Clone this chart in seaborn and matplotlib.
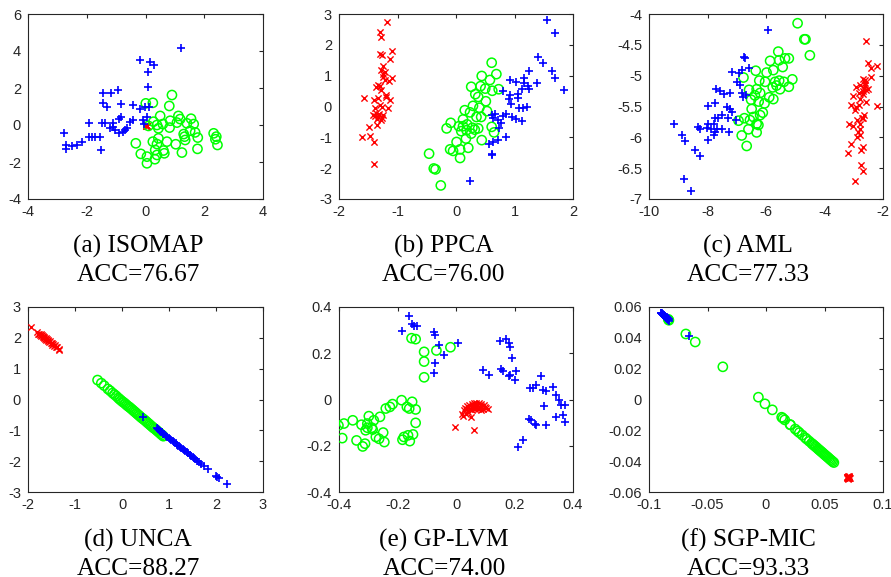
import numpy as np
import pandas as pd
import matplotlib
matplotlib.use("Agg")
import matplotlib.pyplot as plt
from matplotlib.ticker import FixedLocator, FuncFormatter
import seaborn as sns

# ---------------- data ----------------
panel_titles = ["(a) ISOMAP", "(b) PPCA", "(c) AML", "(d) UNCA", "(e) GP-LVM", "(f) SGP-MIC"]
panel_acc = ["ACC=76.67", "ACC=76.00", "ACC=77.33", "ACC=88.27", "ACC=74.00", "ACC=93.33"]

# (a) ISOMAP
a_red_x = [0.02, 0.04, 0.06, 0.03, 0.05, 0.01]
a_red_y = [-0.02, -0.05, -0.07, -0.08, -0.03, -0.06]
a_green_x = [0.90, 0.25, 0.01, 0.81, 0.50, 1.12, 1.18, 1.55, 0.27, 0.59, 0.39, 0.44, 0.10, 0.84, 1.07,
             1.41, 1.64, 0.82, 1.52, 1.69, 1.30, 1.33, 1.78, 1.35, 2.32, 2.41, 2.38, 2.45, 0.44, 0.25,
             0.39, 0.73, 1.03, -0.33, 1.24, 1.77, 0.33, 0.61, 0.64, 0.39, -0.16, 0.05, 0.05, 0.32]
a_green_y = [1.62, 1.20, 1.17, 1.03, 0.49, 0.49, 0.32, 0.34, 0.18, 0.05, 0.00, -0.18, -0.05, 0.23, 0.13,
             0.09, 0.05, -0.14, -0.31, -0.40, -0.49, -0.63, -0.68, -0.81, -0.45, -0.63, -0.77, -1.08, -0.72, -0.90,
             -1.03, -0.90, -1.04, -0.99, -1.49, -1.29, -1.35, -1.38, -1.53, -1.62, -1.56, -1.71, -2.07, -1.85]
a_blue_x = [1.22, -0.18, 0.16, 0.30, 0.08, 0.08, -1.45, -1.17, -0.93, -1.43, -1.32, -0.84, -0.44, -0.18, -0.01,
            0.13, -1.94, -1.49, -1.38, -1.09, -0.90, -0.84, -0.52, -0.43, -0.07, 0.05, -0.05, -1.20, -1.03, -1.09,
            -0.90, -0.75, -0.64, -0.69, -2.76, -1.94, -1.83, -1.72, -1.55, -2.17, -2.34, -2.51, -2.70, -2.70, -1.52]
a_blue_y = [4.17, 3.51, 3.40, 3.27, 2.88, 2.03, 1.74, 1.74, 1.89, 1.17, 0.95, 1.12, 1.08, 0.86, 0.95,
            0.99, 0.13, 0.09, 0.13, 0.09, 0.31, 0.41, 0.18, 0.27, 0.27, 0.41, 0.05, -0.18, -0.27, -0.09,
            -0.45, -0.36, -0.18, -0.27, -0.41, -0.63, -0.67, -0.63, -0.63, -0.90, -1.08, -1.12, -1.08, -1.29, -1.35]

# (b) PPCA
b_red_x = [-1.175, -1.30, -1.28, -1.30, -1.09, -1.13, -1.24, -1.29, -1.24, -1.09, -1.14, -1.21, -1.33, -1.36,
           -1.29, -1.19, -1.13, -1.33, -1.58, -1.41, -1.30, -1.37, -1.31, -1.42, -1.24, -1.35, -1.29, -1.16,
           -1.35, -1.48, -1.60, -1.47, -1.41, -1.40, -1.27, -1.39, -1.33, -1.27, -1.38, -1.30, -1.22, -1.25,
           -1.20, -1.26]
b_red_y = [2.74, 2.43, 2.26, 1.70, 1.80, 1.53, 1.32, 1.18, 1.05, 0.91, 0.82, 0.86, 0.69, 0.62,
           0.53, 0.37, 0.21, 0.26, 0.29, 0.21, 0.04, -0.21, -0.25, -0.28, -0.28, -0.39, -0.44, -0.06,
           -0.61, -0.68, -1.00, -0.96, -1.15, -1.88, -0.01, -0.06, -0.33, -0.36, -0.30, 0.66, 1.12, 0.95,
           0.30, 1.68]
b_green_x = [0.61, 0.69, 0.44, 0.58, 0.26, 0.42, 0.50, 0.62, 0.73, 0.33, 0.38, 0.51, 0.29, 0.15, 0.40,
             0.24, 0.53, 0.43, 0.35, -0.09, 0.12, 0.05, 0.12, 0.19, -0.16, 0.09, 0.32, 0.38, 0.61, 0.65,
             0.26, 0.17, 0.44, 0.01, -0.10, -0.05, 0.07, 0.21, -0.46, 0.07, -0.38, -0.35, -0.26, 0.18, 0.28]
b_green_y = [1.42, 1.05, 0.99, 0.86, 0.64, 0.66, 0.58, 0.51, 0.56, 0.40, 0.31, 0.17, 0.02, -0.12, -0.04,
             -0.19, -0.15, -0.34, -0.34, -0.53, -0.42, -0.64, -0.64, -0.58, -0.71, -0.80, -0.75, -0.71, -0.66, -0.84,
             -0.88, -1.04, -1.09, -1.15, -1.39, -1.44, -1.39, -1.34, -1.53, -1.67, -2.01, -2.04, -2.56, -0.77, -0.69]
b_blue_x = [1.56, 1.69, 1.40, 1.48, 1.25, 1.64, 1.70, 1.84, 1.16, 0.92, 1.03, 1.17, 1.23, 1.39, 1.25,
            1.13, 0.80, 1.06, 0.92, 1.06, 0.90, 0.94, 1.15, 1.22, 1.08, 0.80, 0.61, 0.67, 0.86, 0.95,
            1.02, 1.13, 0.72, 0.64, 0.73, 0.77, 0.85, 0.72, 0.63, 0.56, 0.61, 0.62, 0.24]
b_blue_y = [2.81, 2.40, 1.61, 1.42, 1.15, 1.15, 0.94, 0.53, 0.94, 0.86, 0.80, 0.75, 0.66, 0.77, 0.58,
            0.58, 0.51, 0.42, 0.37, 0.26, 0.23, 0.08, -0.04, -0.01, -0.06, -0.31, -0.28, -0.23, -0.23, -0.34,
            -0.39, -0.47, -0.44, -0.36, -0.71, -0.53, -0.99, -1.09, -1.15, -1.22, -1.53, -1.58, -2.42]

# (c) AML
c_red_x = [-2.57, -2.51, -2.20, -2.40, -2.40, -2.68, -2.77, -2.63, -2.91, -2.51, -2.70, -2.82, -3.02, -2.77,
           -2.57, -2.20, -3.08, -2.91, -2.97, -2.82, -2.66, -2.70, -2.89, -2.77, -3.16, -3.02, -2.80, -2.85,
           -2.80, -2.88, -3.08, -2.70, -2.74, -3.18, -2.74, -2.70, -2.97, -2.63, -2.57, -2.65, -2.60, -2.72, -2.68]
c_red_y = [-4.43, -4.79, -4.84, -4.88, -5.02, -5.05, -5.15, -5.15, -5.19, -5.21, -5.25, -5.28, -5.33, -5.38,
           -5.42, -5.49, -5.48, -5.51, -5.56, -5.48, -5.64, -5.69, -5.72, -5.79, -5.79, -5.82, -5.86, -5.91,
           -5.97, -5.99, -6.11, -6.16, -6.20, -6.25, -6.45, -6.55, -6.71, -5.07, -5.24, -5.20, -5.12, -5.68, -5.30]
c_green_x = [-4.92, -4.69, -4.65, -4.50, -5.58, -5.86, -5.55, -5.35, -5.22, -5.43, -5.75, -5.98, -6.35, -6.77,
             -6.23, -6.03, -5.69, -5.55, -5.39, -5.10, -5.64, -5.77, -5.22, -5.52, -6.32, -6.58, -6.20, -6.38,
             -5.89, -5.75, -6.51, -6.25, -6.05, -6.49, -6.11, -6.20, -6.43, -6.74, -6.94, -6.55, -6.32, -6.26,
             -6.60, -6.32, -6.83, -6.66]
c_green_y = [-4.15, -4.41, -4.41, -4.67, -4.61, -4.76, -4.75, -4.72, -4.72, -4.86, -4.91, -4.95, -4.92, -5.03,
             -5.08, -5.10, -5.10, -5.08, -5.10, -5.06, -5.16, -5.19, -5.18, -5.22, -5.22, -5.23, -5.28, -5.32,
             -5.35, -5.38, -5.39, -5.42, -5.45, -5.54, -5.60, -5.64, -5.67, -5.69, -5.73, -5.72, -5.78, -5.80,
             -5.87, -5.92, -5.97, -6.14]
c_blue_x = [-5.92, -6.75, -6.72, -6.57, -6.83, -7.17, -6.94, -7.00, -6.89, -7.70, -7.57, -7.43, -7.23, -6.83,
            -6.77, -6.68, -7.97, -7.74, -7.34, -7.23, -7.17, -7.51, -7.63, -7.74, -7.31, -7.03, -9.16, -7.97,
            -7.77, -8.34, -8.25, -8.02, -7.89, -7.68, -7.51, -7.74, -7.77, -7.28, -8.88, -8.76, -8.00, -8.42,
            -8.27, -8.82, -8.57]
c_blue_y = [-4.26, -4.69, -4.72, -4.88, -4.91, -4.94, -4.95, -5.10, -5.15, -5.22, -5.25, -5.29, -5.28, -5.28,
            -5.34, -5.32, -5.49, -5.45, -5.51, -5.54, -5.59, -5.64, -5.69, -5.69, -5.68, -5.72, -5.79, -5.79,
            -5.78, -5.84, -5.86, -5.85, -5.86, -5.86, -5.87, -5.91, -5.97, -5.91, -5.97, -6.06, -6.05, -6.21,
            -6.30, -6.68, -6.87]

# (d) UNCA
d_red_x = [-1.94, -1.80, -1.78, -1.76, -1.75, -1.73, -1.72, -1.70, -1.69, -1.68, -1.66, -1.65, -1.64, -1.62,
           -1.61, -1.60, -1.58, -1.57, -1.55, -1.54, -1.52, -1.50, -1.48, -1.47, -1.45, -1.43, -1.41, -1.38,
           -1.35, -1.33]
d_red_y = [2.35, 2.19, 2.14, 2.14, 2.10, 2.11, 2.07, 2.08, 2.03, 2.06, 2.00, 2.02, 1.97, 1.98,
           1.94, 1.96, 1.90, 1.93, 1.86, 1.89, 1.84, 1.83, 1.78, 1.81, 1.75, 1.76, 1.70, 1.69,
           1.65, 1.62]
d_green_x = [-0.52, -0.44, -0.38, -0.30, -0.25, -0.20, -0.16, -0.12, -0.08, -0.05, -0.02, 0.01, 0.04, 0.07,
             0.10, 0.13, 0.16, 0.19, 0.22, 0.25, 0.28, 0.31, 0.34, 0.37, 0.40, 0.43, 0.46, 0.49, 0.52, 0.55,
             0.58, 0.61, 0.64, 0.67, 0.70, 0.73, 0.76, 0.79, 0.82, 0.85, 0.88]
d_green_y = [0.63, 0.53, 0.45, 0.34, 0.28, 0.21, 0.16, 0.11, 0.05, 0.01, -0.03, -0.07, -0.10, -0.14,
             -0.18, -0.22, -0.25, -0.29, -0.33, -0.37, -0.41, -0.45, -0.49, -0.53, -0.57, -0.61, -0.64, -0.68,
             -0.72, -0.76, -0.80, -0.84, -0.88, -0.92, -0.95, -0.99, -1.03, -1.07, -1.11, -1.15, -1.19]
d_blue_x = [0.44, 0.74, 0.76, 0.78, 0.80, 0.82, 0.85, 0.88, 0.90, 0.93, 0.96, 0.99, 1.02, 1.05, 1.08,
            1.11, 1.14, 1.17, 1.20, 1.23, 1.26, 1.29, 1.32, 1.35, 1.38, 1.41, 1.44, 1.47, 1.50, 1.53,
            1.56, 1.60, 1.64, 1.68, 1.75, 1.84, 2.01, 2.03, 2.06, 2.23]
d_blue_y = [-0.56, -0.94, -0.96, -0.99, -1.01, -1.04, -1.07, -1.11, -1.13, -1.17, -1.21, -1.24, -1.28, -1.32,
            -1.35, -1.39, -1.42, -1.46, -1.50, -1.53, -1.57, -1.61, -1.64, -1.68, -1.71, -1.75, -1.79, -1.82,
            -1.86, -1.90, -1.93, -1.98, -2.03, -2.08, -2.16, -2.27, -2.48, -2.50, -2.54, -2.74]

# (e) GP-LVM
e_red_x = [0.022, 0.027, 0.032, 0.038, 0.045, 0.053, 0.061, 0.070, 0.079, 0.087, 0.095, 0.104, 0.110, 0.036,
           0.047, 0.059, 0.070, 0.081, 0.093, 0.042, 0.053, 0.064, 0.076, 0.087, 0.034, 0.051, 0.057, 0.072,
           0.084, -0.002, 0.062, 0.065, 0.098, 0.024]
e_red_y = [-0.061, -0.046, -0.035, -0.029, -0.025, -0.020, -0.017, -0.017, -0.017, -0.020, -0.025, -0.035,
           -0.043, -0.043, -0.039, -0.035, -0.032, -0.035, -0.039, -0.054, -0.046, -0.043, -0.043, -0.046,
           -0.064, -0.075, -0.029, -0.025, -0.028, -0.119, -0.130, -0.026, -0.032, -0.072]
e_green_x = [-0.152, -0.138, -0.109, -0.067, -0.019, -0.109, -0.109, -0.186, -0.150, -0.217, -0.226, -0.168,
             -0.160, -0.138, -0.240, -0.260, -0.138, -0.298, -0.281, -0.303, -0.323, -0.353, -0.383, -0.402,
             -0.303, -0.285, -0.309, -0.249, -0.263, -0.274, -0.389, -0.340, -0.245, -0.311, -0.319, -0.183,
             -0.178, -0.164, -0.147, -0.158, -0.288]
e_green_y = [0.265, 0.261, 0.206, 0.212, 0.226, 0.164, 0.096, -0.003, -0.010, -0.020, -0.032, -0.032,
             -0.039, -0.043, -0.039, -0.075, -0.101, -0.072, -0.090, -0.104, -0.109, -0.090, -0.104, -0.112,
             -0.122, -0.130, -0.133, -0.143, -0.170, -0.162, -0.167, -0.177, -0.184, -0.191, -0.203, -0.174,
             -0.162, -0.155, -0.151, -0.180, -0.122]
e_blue_x = [-0.160, -0.186, -0.149, -0.144, -0.135, -0.076, -0.072, -0.057, -0.040, 0.007, -0.072, -0.076,
            0.150, 0.172, 0.180, 0.186, 0.192, 0.155, 0.161, 0.093, 0.113, 0.186, 0.201, 0.204, 0.180, 0.292,
            0.275, 0.252, 0.263, 0.296, 0.330, 0.307, 0.341, 0.352, 0.360, 0.374, 0.300, 0.250, 0.258, 0.343,
            0.366, 0.371, 0.269, 0.275, 0.309, 0.229, 0.212]
e_blue_y = [0.362, 0.297, 0.328, 0.319, 0.319, 0.290, 0.280, 0.236, 0.193, 0.246, 0.159, 0.116,
            0.251, 0.261, 0.243, 0.226, 0.178, 0.130, 0.125, 0.128, 0.106, 0.106, 0.084, 0.123, 0.101, 0.101,
            0.062, 0.048, 0.048, 0.043, 0.055, 0.038, 0.019, -0.003, -0.025, -0.025, -0.028, -0.083, -0.090, -0.075,
            -0.068, -0.097, -0.104, -0.112, -0.112, -0.177, -0.206]

# (f) SGP-MIC
f_red_x = [0.0695, 0.0700, 0.0705, 0.0710, 0.0698, 0.0702, 0.0707, 0.0712, 0.0696, 0.0703, 0.0708, 0.0700,
           0.0705, 0.0715, 0.0693, 0.0701, 0.0709, 0.0704]
f_red_y = [-0.0500, -0.0498, -0.0502, -0.0505, -0.0507, -0.0510, -0.0508, -0.0500, -0.0503, -0.0503, -0.0496,
           -0.0512, -0.0514, -0.0508, -0.0506, -0.0501, -0.0511, -0.0507]
f_green_x = [-0.0830, -0.0835, -0.0685, -0.0605, -0.0369, -0.0065, -0.0009, 0.0054, 0.0134, 0.0145, 0.0160,
             0.0205, 0.0210, 0.0250, 0.0270, 0.0285, 0.0310, 0.0335, 0.0350, 0.0370, 0.0390, 0.0400, 0.0410,
             0.0420, 0.0430, 0.0440, 0.0450, 0.0460, 0.0470, 0.0480, 0.0490, 0.0500, 0.0510, 0.0520, 0.0530,
             0.0540, 0.0550, 0.0560, 0.0570, 0.0580]
f_green_y = [0.0514, 0.0520, 0.0425, 0.0373, 0.0212, 0.0015, -0.0028, -0.0067, -0.0115, -0.0122, -0.0132,
             -0.0162, -0.0165, -0.0192, -0.0205, -0.0215, -0.0231, -0.0248, -0.0258, -0.0271, -0.0284, -0.0291,
             -0.0297, -0.0304, -0.0310, -0.0317, -0.0324, -0.0330, -0.0337, -0.0343, -0.0350, -0.0357, -0.0363,
             -0.0370, -0.0376, -0.0383, -0.0390, -0.0396, -0.0403, -0.0409]
f_blue_x = [-0.0900, -0.0895, -0.0890, -0.0888, -0.0885, -0.0882, -0.0880, -0.0877, -0.0875, -0.0872, -0.0870,
            -0.0868, -0.0865, -0.0862, -0.0860, -0.0857, -0.0855, -0.0852, -0.0850, -0.0847, -0.0845, -0.0842,
            -0.0840, -0.0835, -0.0830, -0.0825, -0.0662]
f_blue_y = [0.0564, 0.0558, 0.0560, 0.0553, 0.0557, 0.0549, 0.0553, 0.0545, 0.0550, 0.0542, 0.0546,
            0.0539, 0.0543, 0.0535, 0.0539, 0.0531, 0.0536, 0.0528, 0.0533, 0.0524, 0.0529, 0.0521,
            0.0526, 0.0516, 0.0519, 0.0512, 0.0409]

# axis limits / ticks
x_ticks = [[-4, -2, 0, 2, 4], [-2, -1, 0, 1, 2], [-10, -8, -6, -4, -2],
           [-2, -1, 0, 1, 2, 3], [-0.4, -0.2, 0, 0.2, 0.4], [-0.1, -0.05, 0, 0.05, 0.1]]
y_ticks = [[-4, -2, 0, 2, 4, 6], [-3, -2, -1, 0, 1, 2, 3], [-7, -6.5, -6, -5.5, -5, -4.5, -4],
           [-3, -2, -1, 0, 1, 2, 3], [-0.4, -0.2, 0, 0.2, 0.4], [-0.06, -0.04, -0.02, 0, 0.02, 0.04, 0.06]]

panels = [
    (a_red_x, a_red_y, a_green_x, a_green_y, a_blue_x, a_blue_y),
    (b_red_x, b_red_y, b_green_x, b_green_y, b_blue_x, b_blue_y),
    (c_red_x, c_red_y, c_green_x, c_green_y, c_blue_x, c_blue_y),
    (d_red_x, d_red_y, d_green_x, d_green_y, d_blue_x, d_blue_y),
    (e_red_x, e_red_y, e_green_x, e_green_y, e_blue_x, e_blue_y),
    (f_red_x, f_red_y, f_green_x, f_green_y, f_blue_x, f_blue_y),
]

# ---------------- style ----------------
sns.set_style("white")
plt.rcParams["font.family"] = ["Liberation Sans", "DejaVu Sans"]
plt.rcParams["axes.unicode_minus"] = False

RED, GREEN, BLUE = "#ff0000", "#00ff00", "#0000ff"
AXC = "#262626"

W, H = 891, 577
fig = plt.figure(figsize=(W / 100, H / 100), dpi=100)

col_left = [28, 339, 649]
col_w = [235, 234, 234]
row_top = [14, 307]
ax_h = 185
title_cx = [138, 444, 748]
title_base = [(253, 281), (547, 575)]


def fmt(v, pos):
    return "%g" % v


for i, (rx, ry, gx, gy, bx, by) in enumerate(panels):
    r, c = divmod(i, 3)
    l = col_left[c] / W
    b = 1 - (row_top[r] + ax_h) / H
    ax = fig.add_axes([l, b, col_w[c] / W, ax_h / H])

    dfr = pd.DataFrame({"x": rx, "y": ry})
    dfg = pd.DataFrame({"x": gx, "y": gy})
    dfb = pd.DataFrame({"x": bx, "y": by})
    sns.scatterplot(data=dfr, x="x", y="y", ax=ax, marker="x", color=RED, s=20,
                    linewidth=1.0, edgecolor=None, legend=False, zorder=3)
    sns.scatterplot(data=dfg, x="x", y="y", ax=ax, marker="o", facecolor="none",
                    edgecolor=GREEN, s=44, linewidth=1.1, legend=False, zorder=3)
    sns.scatterplot(data=dfb, x="x", y="y", ax=ax, marker="+", color=BLUE, s=40,
                    linewidth=1.2, edgecolor=None, legend=False, zorder=4)

    xt, yt = x_ticks[i], y_ticks[i]
    ax.set_xlim(xt[0], xt[-1])
    ax.set_ylim(yt[0], yt[-1])
    ax.xaxis.set_major_locator(FixedLocator(xt))
    ax.yaxis.set_major_locator(FixedLocator(yt))
    ax.xaxis.set_major_formatter(FuncFormatter(fmt))
    ax.yaxis.set_major_formatter(FuncFormatter(fmt))
    ax.set_xlabel("")
    ax.set_ylabel("")
    ax.tick_params(axis="both", which="major", direction="in", length=3, width=0.8,
                   top=True, right=True, labelsize=10.5, colors=AXC, labelcolor=AXC)
    ax.tick_params(axis="x", pad=4)
    ax.tick_params(axis="y", pad=5)
    for sp in ax.spines.values():
        sp.set_color(AXC)
        sp.set_linewidth(0.8)
        sp.set_visible(True)

    fig.text(title_cx[c] / W, 1 - title_base[r][0] / H, panel_titles[i], ha="center",
             va="baseline", fontsize=18.3, family=["Liberation Serif", "DejaVu Serif"], color="black")
    fig.text(title_cx[c] / W, 1 - title_base[r][1] / H, panel_acc[i], ha="center",
             va="baseline", fontsize=18.3, family=["Liberation Serif", "DejaVu Serif"], color="black")

fig.savefig("out.png", dpi=100, facecolor="white")
